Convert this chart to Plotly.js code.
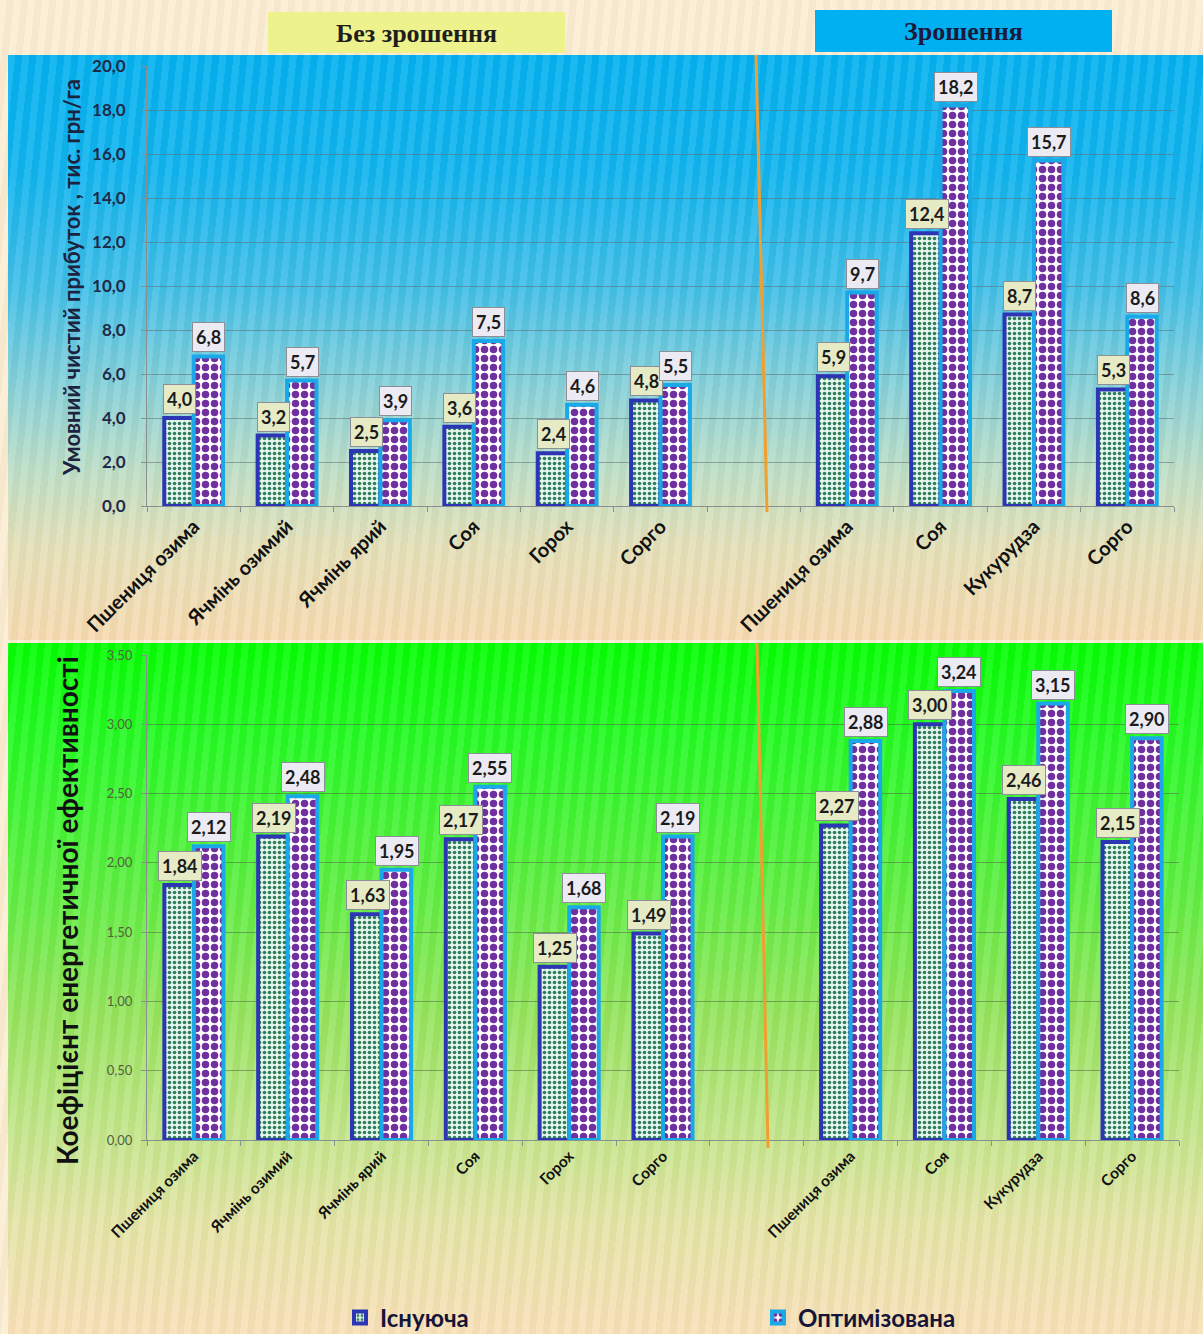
<!DOCTYPE html>
<html lang="uk">
<head>
<meta charset="utf-8">
<script src="https://cdn.plot.ly/plotly-3.0.1.min.js"></script>
<style>
  html, body { margin: 0; padding: 0; }
  body { width: 1203px; height: 1334px; position: relative; overflow: hidden; background: #fbedd3; }
  .band { position: absolute; }
  #band-top {
    left: 8px; top: 55px; width: 1195px; height: 585px;
    background: linear-gradient(to bottom, #00b0f0 0%, #0db3ef 20%, #3fbee8 40%, #86d0d8 57%, #bcdec6 71%, #e4e0b8 84%, #f6dab0 100%);
  }
  #band-bottom {
    left: 8px; top: 643px; width: 1195px; height: 691px;
    background: linear-gradient(to bottom, #00ff00 0%, #22fa22 14%, #5cee40 36%, #94e45c 54%, #c0e588 70%, #e4e4a6 84%, #f8e0b8 100%);
  }
  #stripes {
    left: 0; top: 0; width: 1203px; height: 1334px;
    background: repeating-linear-gradient(96deg, rgba(255,255,255,0.10) 0px, rgba(255,255,255,0.10) 7px, rgba(120,90,40,0.035) 7px, rgba(120,90,40,0.035) 14px);
  }
  #chart { position: absolute; left: 0; top: 0; width: 1203px; height: 1334px; }
</style>
</head>
<body>
<div class="band" id="band-top"></div>
<div class="band" id="band-bottom"></div>
<div class="band" id="stripes"></div>
<div id="chart"></div>
<script>
// Crops grown without irrigation and with irrigation
const cropsDry = ['Пшениця озима', 'Ячмінь озимий', 'Ячмінь ярий', 'Соя', 'Горох', 'Сорго'];
const cropsIrrigated = ['Пшениця озима', 'Соя', 'Кукурудза', 'Сорго'];

// Conditional net profit, thousand UAH per ha (blank slot separates the two groups)
const profitExisting  = [4.0, 3.2, 2.5, 3.6, 2.4, 4.8, null, 5.9, 12.4, 8.7, 5.3];
const profitOptimized = [6.8, 5.7, 3.9, 7.5, 4.6, 5.5, null, 9.7, 18.2, 15.7, 8.6];

// Energy efficiency coefficient
const energyExisting  = [1.84, 2.19, 1.63, 2.17, 1.25, 1.49, null, 2.27, 3.00, 2.46, 2.15];
const energyOptimized = [2.12, 2.48, 1.95, 2.55, 1.68, 2.19, null, 2.88, 3.24, 3.15, 2.90];

const seriesNames = ['Існуюча', 'Оптимізована'];
const groupTitles = ['Без зрошення', 'Зрошення'];
const titleProfit = 'Умовний чистий прибуток , тис. грн/га';
const titleEnergy = 'Коефіцієнт енергетичної ефективності';

// ---- derived structures ----
const categories = [...cropsDry, '', ...cropsIrrigated];
const xIdx = categories.map((_, i) => i);
const labelIdx = xIdx.filter(i => categories[i] !== '');
const labelText = labelIdx.map(i => categories[i]);

const W = 1203, H = 1334;
const px = v => v / W;
const py = v => 1 - v / H;

const FONT = 'Lato, "Open Sans", "Noto Sans", sans-serif';

const styleExisting = {
  color: '#e4f5ec',
  line: { color: '#2c36b4', width: 4 },
  pattern: { shape: '.', fgcolor: '#2e7d5c', bgcolor: '#e4f5ec', size: 5, solidity: 0.4, fillmode: 'replace' }
};
const styleOptimized = {
  color: '#ffffff',
  line: { color: '#1aa9e8', width: 4 },
  pattern: { shape: '.', fgcolor: '#7030a0', bgcolor: '#ffffff', size: 9, solidity: 0.55, fillmode: 'replace' }
};

function barTrace(name, values, xa, ya, style, showLegend) {
  return {
    type: 'bar', name: name, x: xIdx, y: values,
    xaxis: xa, yaxis: ya,
    marker: style, showlegend: showLegend, legendgroup: name,
    hoverinfo: 'skip', cliponaxis: false
  };
}

const traces = [
  barTrace(seriesNames[0], profitExisting, 'x', 'y', styleExisting, true),
  barTrace(seriesNames[1], profitOptimized, 'x', 'y', styleOptimized, true),
  barTrace(seriesNames[0], energyExisting, 'x2', 'y2', styleExisting, false),
  barTrace(seriesNames[1], energyOptimized, 'x2', 'y2', styleOptimized, false)
];

// value labels above bars
function valueLabels(values, xref, yref, digits, shift, bg, fontSize) {
  const out = [];
  values.forEach((v, i) => {
    if (v === null) return;
    out.push({
      x: i, y: v, xref: xref, yref: yref,
      text: v.toFixed(digits).replace('.', ','),
      showarrow: false, yanchor: 'bottom', xanchor: 'center',
      xshift: shift, yshift: 4,
      bgcolor: bg, bordercolor: '#8c9096', borderwidth: 1, borderpad: 3,
      font: { family: FONT, size: fontSize, color: '#1b1b1b', weight: 'bold' }
    });
  });
  return out;
}

const annotations = [
  ...valueLabels(profitExisting, 'x', 'y', 1, -14, '#e6ebc6', 18),
  ...valueLabels(profitOptimized, 'x', 'y', 1, 15, '#ecebf4', 18),
  ...valueLabels(energyExisting, 'x2', 'y2', 2, -14, '#e6ebc6', 18),
  ...valueLabels(energyOptimized, 'x2', 'y2', 2, 15, '#ecebf4', 18),
  {
    xref: 'paper', yref: 'paper', x: px(416), y: py(34), text: groupTitles[0],
    showarrow: false, xanchor: 'center', yanchor: 'middle',
    font: { family: '"Liberation Serif", "DejaVu Serif", serif', size: 26, color: '#1e1e1e', weight: 'bold' }
  },
  {
    xref: 'paper', yref: 'paper', x: px(963), y: py(32), text: groupTitles[1],
    showarrow: false, xanchor: 'center', yanchor: 'middle',
    font: { family: '"Liberation Serif", "DejaVu Serif", serif', size: 26, color: '#1a1a3c', weight: 'bold' }
  },
  // axis titles
  {
    xref: 'paper', yref: 'paper', x: px(72), y: py(278), text: titleProfit, textangle: -90,
    showarrow: false, xanchor: 'center', yanchor: 'middle',
    font: { family: FONT, size: 22, color: '#1c2340', weight: 'bold' }
  },
  {
    xref: 'paper', yref: 'paper', x: px(67), y: py(911), text: titleEnergy, textangle: -90,
    showarrow: false, xanchor: 'center', yanchor: 'middle',
    font: { family: FONT, size: 28, color: '#111111', weight: 'bold' }
  }
];

const shapes = [
  { type: 'rect', xref: 'paper', yref: 'paper', x0: px(268), x1: px(565), y0: py(53), y1: py(12),
    fillcolor: '#edf28c', line: { width: 0 }, layer: 'below' },
  { type: 'rect', xref: 'paper', yref: 'paper', x0: px(815), x1: px(1112), y0: py(52), y1: py(10),
    fillcolor: '#00b0f0', line: { width: 0 }, layer: 'below' },
  // dividers between the dry and irrigated groups
  { type: 'line', xref: 'paper', yref: 'paper', x0: px(756), y0: py(55), x1: px(767), y1: py(512),
    line: { color: '#f0a030', width: 3 } },
  { type: 'line', xref: 'paper', yref: 'paper', x0: px(757), y0: py(643), x1: px(768), y1: py(1148),
    line: { color: '#f0a030', width: 3 } }
];

function catAxis(domain, anchor, tickSize) {
  return {
    domain: domain, anchor: anchor,
    range: [-0.5, categories.length - 0.5],
    tickmode: 'array', tickvals: labelIdx, ticktext: labelText,
    tickangle: -45, ticks: '', showgrid: false, zeroline: false,
    showline: true, linecolor: '#8a8f90', linewidth: 1,
    tickfont: { family: FONT, size: tickSize, color: '#111111', weight: 'bold' },
    minor: { tickmode: 'linear', tick0: -0.5, dtick: 1, ticks: 'outside', ticklen: 5, tickcolor: '#8a8f90', showgrid: false },
    automargin: false,
    fixedrange: true
  };
}

const layout = {
  width: W, height: H,
  margin: { l: 0, r: 0, t: 0, b: 0, autoexpand: false },
  paper_bgcolor: 'rgba(0,0,0,0)',
  plot_bgcolor: 'rgba(0,0,0,0)',
  separators: ', ',
  barmode: 'group', bargap: 0.37, bargroupgap: 0,
  font: { family: FONT },
  showlegend: true,
  legend: {
    orientation: 'h', x: px(340), xanchor: 'left', y: py(1318), yanchor: 'middle',
    entrywidth: 373, entrywidthmode: 'pixels', bgcolor: 'rgba(0,0,0,0)',
    font: { family: FONT, size: 24, color: '#15153a', weight: 'bold' },
    itemclick: false, itemdoubleclick: false
  },
  xaxis: catAxis([px(147), px(1174)], 'y', 20),
  yaxis: {
    domain: [py(506), py(66)], anchor: 'x',
    range: [0, 20], dtick: 2, tickformat: '.1f',
    showgrid: true, gridcolor: 'rgba(95,110,115,0.55)', gridwidth: 1,
    zeroline: false, showline: true, linecolor: '#8a8f90', linewidth: 1,
    ticks: 'outside', ticklen: 5, tickcolor: '#8a8f90', ticklabelstandoff: 12,
    tickfont: { family: FONT, size: 17, color: '#1f2a48', weight: 'bold' },
    automargin: false,
    fixedrange: true
  },
  xaxis2: catAxis([px(147), px(1179)], 'y2', 15.5),
  yaxis2: {
    domain: [py(1140), py(655)], anchor: 'x2',
    range: [0, 3.5], dtick: 0.5, tickformat: '.2f',
    showgrid: true, gridcolor: 'rgba(80,105,70,0.55)', gridwidth: 1,
    zeroline: false, showline: true, linecolor: '#8a8f90', linewidth: 1,
    ticks: 'outside', ticklen: 5, tickcolor: '#8a8f90', ticklabelstandoff: 6,
    tickfont: { family: FONT, size: 13, color: '#55613f' },
    automargin: false,
    fixedrange: true
  },
  annotations: annotations,
  shapes: shapes
};

Plotly.newPlot('chart', traces, layout, { displayModeBar: false, staticPlot: true });
</script>
</body>
</html>
